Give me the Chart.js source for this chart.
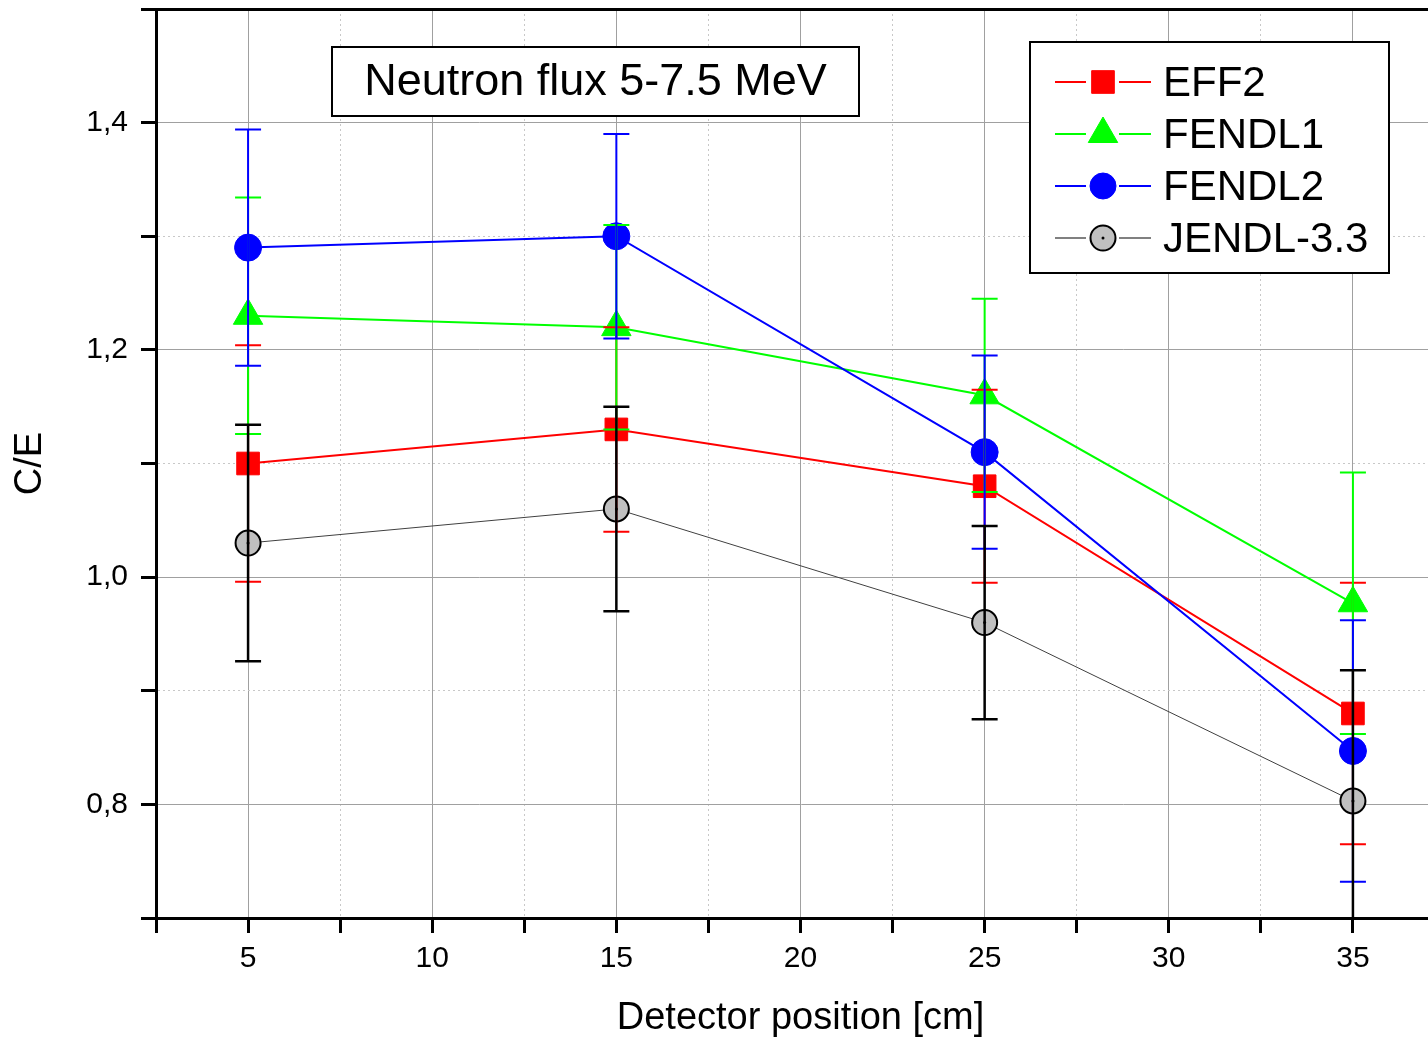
<!DOCTYPE html>
<html>
<head>
<meta charset="utf-8">
<title>Neutron flux 5-7.5 MeV</title>
<script src="https://cdn.jsdelivr.net/npm/chart.js@4.4.1/dist/chart.umd.min.js"></script>
<style>
    html, body { margin: 0; padding: 0; background: #fff; overflow: hidden; }
    /* canvas is a bit wider than the window: the right edge of the plot is cut off like in the original */
    #wrap { width: 1452px; height: 1039px; }
</style>
</head>
<body>
<div id="wrap"><canvas id="chart" width="1452" height="1039"></canvas></div>
<script>
const chartTitle = 'Neutron flux 5-7.5 MeV'
const xAxisTitle = 'Detector position [cm]'
const yAxisTitle = 'C/E'

const positions = [5, 15, 25, 35] // detector positions [cm]
const eff2 = [1.10, 1.13, 1.08, 0.88]
const fendl1 = [1.23, 1.22, 1.16, 0.977]
const fendl2 = [1.29, 1.30, 1.11, 0.847]
const jendl33 = [1.03, 1.06, 0.96, 0.803]
const errors = [0.104, 0.09, 0.085, 0.115] // experimental error, same for every library

const xTicks = [2.5, 5, 7.5, 10, 12.5, 15, 17.5, 20, 22.5, 25, 27.5, 30, 32.5, 35, 37.5]
const yTicks = [0.7, 0.8, 0.9, 1.0, 1.1, 1.2, 1.3, 1.4, 1.5]

const FONT = "'Liberation Sans', Arial, sans-serif"
Chart.defaults.font.family = FONT
Chart.defaults.color = '#000'

const isMajorX = v => v % 5 === 0
const isMajorY = v => Math.round(v * 10) % 2 === 0

function toPoints(values) {
    return positions.map((x, i) => ({ x: x, y: values[i] }))
}

// vertical error bars with caps, drawn through the chart scales
const errorBars = {
    id: 'errorBars',
    afterDatasetsDraw(chart) {
        const { ctx, chartArea, scales } = chart
        ctx.save()
        ctx.beginPath()
        ctx.rect(chartArea.left, chartArea.top, chartArea.right - chartArea.left, chartArea.bottom - chartArea.top)
        ctx.clip()
        chart.data.datasets.forEach(ds => {
            ctx.strokeStyle = ds.errorColor
            ctx.lineWidth = ds.errorWidth
            ds.data.forEach((p, i) => {
                const x = scales.x.getPixelForValue(p.x)
                const yTop = scales.y.getPixelForValue(p.y + errors[i])
                const yBot = scales.y.getPixelForValue(p.y - errors[i])
                ctx.beginPath()
                ctx.moveTo(x, yTop); ctx.lineTo(x, yBot)
                ctx.moveTo(x - 13, yTop); ctx.lineTo(x + 13, yTop)
                ctx.moveTo(x - 13, yBot); ctx.lineTo(x + 13, yBot)
                ctx.stroke()
            })
        })
        // little dot in the middle of the JENDL symbols
        chart.data.datasets.forEach(ds => {
            if (!ds.centerDot) return
            ctx.fillStyle = '#000'
            ds.data.forEach(p => {
                ctx.beginPath()
                ctx.arc(scales.x.getPixelForValue(p.x), scales.y.getPixelForValue(p.y), 1.5, 0, Math.PI * 2)
                ctx.fill()
            })
        })
        ctx.restore()
    }
}

// framed title and legend inside the plot, Origin style
const boxes = {
    id: 'boxes',
    afterDraw(chart) {
        const { ctx, chartArea } = chart
        ctx.save()

        // title box
        const tl = chartArea.left + 176, tt = chartArea.top + 38, tw = 527, th = 69
        ctx.fillStyle = '#fff'
        ctx.fillRect(tl, tt, tw, th)
        ctx.strokeStyle = '#000'
        ctx.lineWidth = 2
        ctx.strokeRect(tl, tt, tw, th)
        ctx.fillStyle = '#000'
        ctx.font = '45px ' + FONT
        ctx.textAlign = 'center'
        ctx.textBaseline = 'middle'
        ctx.fillText(chartTitle, tl + tw / 2, tt + th / 2 + 1)

        // legend box
        const ll = chartArea.left + 874, lt = chartArea.top + 33, lw = 359, lh = 231
        ctx.fillStyle = '#fff'
        ctx.fillRect(ll, lt, lw, lh)
        ctx.strokeStyle = '#000'
        ctx.lineWidth = 2
        ctx.strokeRect(ll, lt, lw, lh)
        ctx.font = '42px ' + FONT
        ctx.textAlign = 'left'
        chart.data.datasets.forEach((ds, i) => {
            const y = lt + 40 + i * 52
            ctx.strokeStyle = ds.legendLineColor
            ctx.lineWidth = 2
            ctx.beginPath()
            ctx.moveTo(ll + 25, y); ctx.lineTo(ll + 56, y)
            ctx.moveTo(ll + 89, y); ctx.lineTo(ll + 121, y)
            ctx.stroke()
            ctx.fillStyle = ds.pointBackgroundColor
            ctx.strokeStyle = ds.pointBorderColor
            ctx.lineWidth = ds.pointBorderWidth
            Chart.helpers.drawPoint(ctx, {
                pointStyle: ds.pointStyle,
                radius: ds.legendRadius,
                borderWidth: ds.pointBorderWidth,
                rotation: 0
            }, ll + 73, y)
            ctx.fillStyle = '#000'
            ctx.fillText(ds.label, ll + 133, y + 2)
        })
        // dot in JENDL legend symbol
        ctx.beginPath()
        ctx.arc(ll + 73, lt + 40 + 3 * 52, 1.5, 0, Math.PI * 2)
        ctx.fillStyle = '#000'
        ctx.fill()

        ctx.restore()
    }
}

const data = {
    datasets: [
        {
            label: 'EFF2',
            data: toPoints(eff2),
            borderColor: '#ff0000',
            borderWidth: 2,
            pointStyle: 'rect',
            pointRadius: 16,
            legendRadius: 16,
            pointBackgroundColor: '#ff0000',
            pointBorderColor: '#ff0000',
            pointBorderWidth: 1,
            errorColor: '#ff0000',
            errorWidth: 2,
            legendLineColor: '#ff0000',
            order: 4
        },
        {
            label: 'FENDL1',
            data: toPoints(fendl1),
            borderColor: '#00ff00',
            borderWidth: 2,
            pointStyle: 'triangle',
            pointRadius: 17,
            legendRadius: 17,
            pointBackgroundColor: '#00ff00',
            pointBorderColor: '#00ff00',
            pointBorderWidth: 1,
            errorColor: '#00ff00',
            errorWidth: 2,
            legendLineColor: '#00ff00',
            order: 3
        },
        {
            label: 'FENDL2',
            data: toPoints(fendl2),
            borderColor: '#0000ff',
            borderWidth: 2,
            pointStyle: 'circle',
            pointRadius: 13.5,
            legendRadius: 13,
            pointBackgroundColor: '#0000ff',
            pointBorderColor: '#0000ff',
            pointBorderWidth: 1,
            errorColor: '#0000ff',
            errorWidth: 2,
            legendLineColor: '#0000ff',
            order: 2
        },
        {
            label: 'JENDL-3.3',
            data: toPoints(jendl33),
            borderColor: '#404040',
            borderWidth: 1,
            pointStyle: 'circle',
            pointRadius: 12.5,
            legendRadius: 12.5,
            pointBackgroundColor: '#c0c0c0',
            pointBorderColor: '#000000',
            pointBorderWidth: 2,
            errorColor: '#000000',
            errorWidth: 2.5,
            legendLineColor: '#808080',
            centerDot: true,
            order: 1
        }
    ]
}

const config = {
    type: 'line',
    data,
    options: {
        responsive: false,
        animation: false,
        events: [],
        // no automatic padding for the big markers, the plot area is placed by hand
        layout: { autoPadding: false, padding: { top: 9, right: 7, bottom: 0, left: 0 } },
        plugins: {
            legend: { display: false },
            tooltip: { enabled: false }
        },
        scales: {
            x: {
                type: 'linear',
                position: 'bottom',
                min: 2.5,
                max: 37.5,
                afterBuildTicks: scale => { scale.ticks = xTicks.map(v => ({ value: v })) },
                afterFit: scale => {
                    scale.height = 121
                    scale.paddingLeft = 0
                    scale.paddingRight = 0
                },
                ticks: {
                    autoSkip: false,
                    maxRotation: 0,
                    padding: 8,
                    font: { size: 30 },
                    callback: v => isMajorX(v) ? String(v) : ''
                },
                grid: {
                    color: ctx => ctx.tick && isMajorX(ctx.tick.value) ? '#a0a0a0' : '#c8c8c8',
                    lineWidth: 1,
                    tickLength: 15,
                    tickColor: '#000',
                    tickWidth: 3
                },
                border: {
                    color: '#000',
                    width: 3,
                    dash: ctx => ctx.tick && isMajorX(ctx.tick.value) ? [] : [2, 3]
                },
                title: {
                    display: true,
                    text: xAxisTitle,
                    font: { size: 38, lineHeight: 1 },
                    padding: { top: 0, bottom: 1 }
                }
            },
            xTop: {
                type: 'linear',
                position: 'top',
                min: 2.5,
                max: 37.5,
                afterFit: scale => {
                    scale.height = 0
                    scale.paddingLeft = 0
                    scale.paddingRight = 0
                },
                ticks: { display: false },
                grid: { display: false },
                border: { color: '#000', width: 3 }
            },
            y: {
                type: 'linear',
                min: 0.7,
                max: 1.5,
                afterBuildTicks: scale => { scale.ticks = yTicks.map(v => ({ value: v })) },
                afterFit: scale => {
                    scale.width = 156
                    scale.paddingTop = 0
                    scale.paddingBottom = 0
                },
                ticks: {
                    autoSkip: false,
                    padding: 13,
                    font: { size: 30 },
                    callback: v => isMajorY(v) ? v.toFixed(1).replace('.', ',') : ''
                },
                grid: {
                    color: ctx => ctx.tick && isMajorY(ctx.tick.value) ? '#a0a0a0' : '#c8c8c8',
                    lineWidth: 1,
                    tickLength: 15,
                    tickColor: '#000',
                    tickWidth: 3
                },
                border: {
                    color: '#000',
                    width: 3,
                    dash: ctx => ctx.tick && isMajorY(ctx.tick.value) ? [] : [2, 3]
                },
                title: {
                    display: true,
                    text: yAxisTitle,
                    font: { size: 38, lineHeight: 1 },
                    padding: { top: 12, bottom: 0 }
                }
            }
        }
    },
    plugins: [errorBars, boxes]
}

const chart = new Chart(document.getElementById('chart'), config)
</script>
</body>
</html>
